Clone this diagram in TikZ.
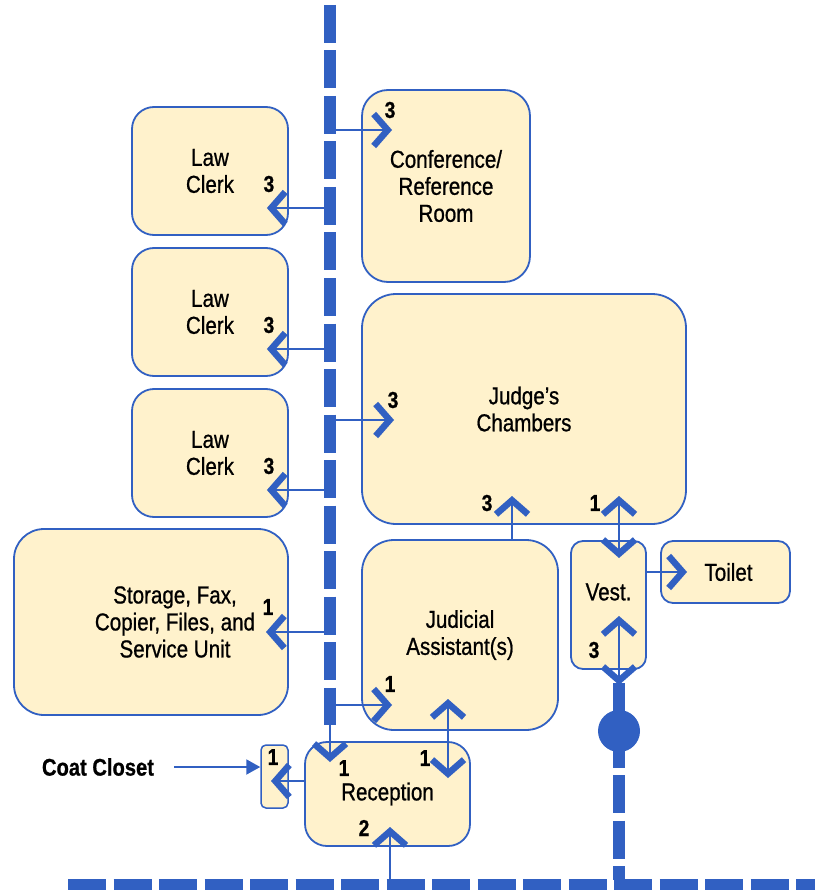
\documentclass[tikz,border=0pt]{standalone}
\usepackage{fontspec}
\setmainfont[FakeStretch=0.84,FakeBold=0.8]{Liberation Sans}
\usetikzlibrary{arrows.meta,positioning}

\definecolor{wandblau}{HTML}{3160C2}
\definecolor{raumgelb}{HTML}{FFF2CC}

\begin{document}
\begin{tikzpicture}[x=1pt,y=-1pt,
	raum/.style={draw=wandblau,line width=1.8pt,fill=raumgelb,rounded corners=22pt,
		align=center,inner sep=0pt,font=\fontsize{24.5}{27}\selectfont},
	txt/.style={align=center,inner sep=0pt,font=\fontsize{24.5}{27}\selectfont},
	zahl/.style={inner sep=0pt,font=\bfseries\fontsize{23}{23}\selectfont},
	weg/.style={draw=wandblau,line width=2pt,-{Straight Barb[length=14pt,width=32pt,line width=6.5pt]}},
	wegzwei/.style={weg,{Straight Barb[length=14pt,width=32pt,line width=6.5pt]}-{Straight Barb[length=14pt,width=32pt,line width=6.5pt]}},
	flur/.style={draw=wandblau,line width=12pt},
	flurdash/.style={flur,dash pattern=on 38pt off 7.5pt}]

\useasboundingbox (0,0) rectangle (815,890);

% corridors
\draw[flurdash] (330,5) -- (330,725);
\draw[flurdash] (68,884.5) -- (815,884.5);
\draw[flur] (619,683) -- (619,768);
\draw[flurdash] (619,775) -- (619,880);
\fill[wandblau] (619,731) circle[radius=21];
\coordinate (spine) at (330,0);

% rooms
\foreach \n/\y in {1/171,2/312,3/453}{
	\node[raum,minimum width=156,minimum height=128] (lc\n) at (210,\y) {Law\\Clerk};
	\coordinate (lc\n tip) at ([shift={(-22,37)}]lc\n.east);
	\node[zahl] (lc\n num) at ([shift={(-20,13)}]lc\n.east) {3};
	\draw[weg] (spine |- lc\n tip) -- (lc\n tip);
}

\node[raum,minimum width=274,minimum height=186,rounded corners=30pt] (storage) at (151,622) {};
\node[txt] (storagetxt) at (175,622) {Storage, Fax,\\Copier, Files, and\\Service Unit};
\node[raum,minimum width=168,minimum height=192,rounded corners=26pt] (conf) at (446,186) {Conference/\\Reference\\Room};
\node[raum,minimum width=324,minimum height=230,rounded corners=34pt] (judge) at (524,409) {Judge’s\\Chambers};
\node[raum,minimum width=196,minimum height=190,rounded corners=32pt] (jass) at (460,635) {Judicial\\Assistant(s)};
\node[raum,minimum width=75,minimum height=128,rounded corners=12pt] (vest) at (608.5,605) {};
\node[txt] (vesttxt) at (608.5,592) {Vest.};
\node[raum,minimum width=129,minimum height=62,rounded corners=12pt] (toilet) at (725.5,572) {\hspace*{6pt}Toilet};
\node[raum,minimum width=165,minimum height=104,rounded corners=22pt] (recep) at (387.5,794) {Reception};
\node[raum,minimum width=27,minimum height=63,rounded corners=5pt,line width=1.5pt] (closet) at (274.5,776.5) {};
\node[inner sep=0pt,font=\bfseries\fontsize{24}{24}\selectfont] (coat) at (98,767) {Coat Closet};

% spine to rooms
\coordinate (conftip) at (392,130);
\coordinate (judgetip) at (394,420);
\coordinate (storagetip) at (266,632);
\coordinate (jasstip) at (392,705);
\coordinate (receptip) at (330,762);
\draw[weg] (spine |- conftip) -- (conftip);
\draw[weg] (spine |- judgetip) -- (judgetip);
\draw[weg] (spine |- storagetip) -- (storagetip);
\draw[weg] (spine |- jasstip) -- (jasstip);
\draw[weg] (330,725) -- (receptip);
\node[zahl] (confnum) at (390,110) {3};
\node[zahl] (judgenum) at (393,400) {3};
\node[zahl] (storagenum) at (268,607) {1};
\node[zahl] (jassnum) at (390,684) {1};
\node[zahl] (recepnum) at (344,768) {1};

% room to room
\coordinate (jassup) at (448,699);
\coordinate (recepdown) at (448,778);
\draw[wegzwei] (jassup) -- (recepdown);
\node[zahl] (recepnumb) at (425,758) {1};

\coordinate (judgeup) at (512,496);
\draw[weg] (jass.north -| judgeup) -- (judgeup);
\node[zahl] (judgenumb) at (487,503) {3};

\coordinate (judgevest) at (619,496);
\coordinate (vestin) at (619,558);
\draw[wegzwei] (judgevest) -- (vestin);
\node[zahl] (judgenumc) at (595,503) {1};

\coordinate (toilettip) at (687,572);
\draw[weg] (vest.east |- toilettip) -- (toilettip);

\coordinate (vestup) at (619,616);
\coordinate (vestout) at (619,685);
\draw[wegzwei] (vestup) -- (vestout);
\node[zahl] (vestnum) at (594,650) {3};

\coordinate (closettip) at (271,781);
\draw[weg] (recep.west |- closettip) -- (closettip);
\node[zahl] (closetnum) at (273,757) {1};

\coordinate (bottomrecep) at (390,827);
\draw[weg] (390,880) -- (bottomrecep);
\node[zahl] (recepnumc) at (364,828) {2};

\coordinate (coattip) at (closet.west |- coat);
\draw[draw=wandblau,line width=2pt,-{Triangle[length=14pt,width=15pt]}] ([xshift=20pt]coat.east) -- (coattip);

\end{tikzpicture}
\end{document}
